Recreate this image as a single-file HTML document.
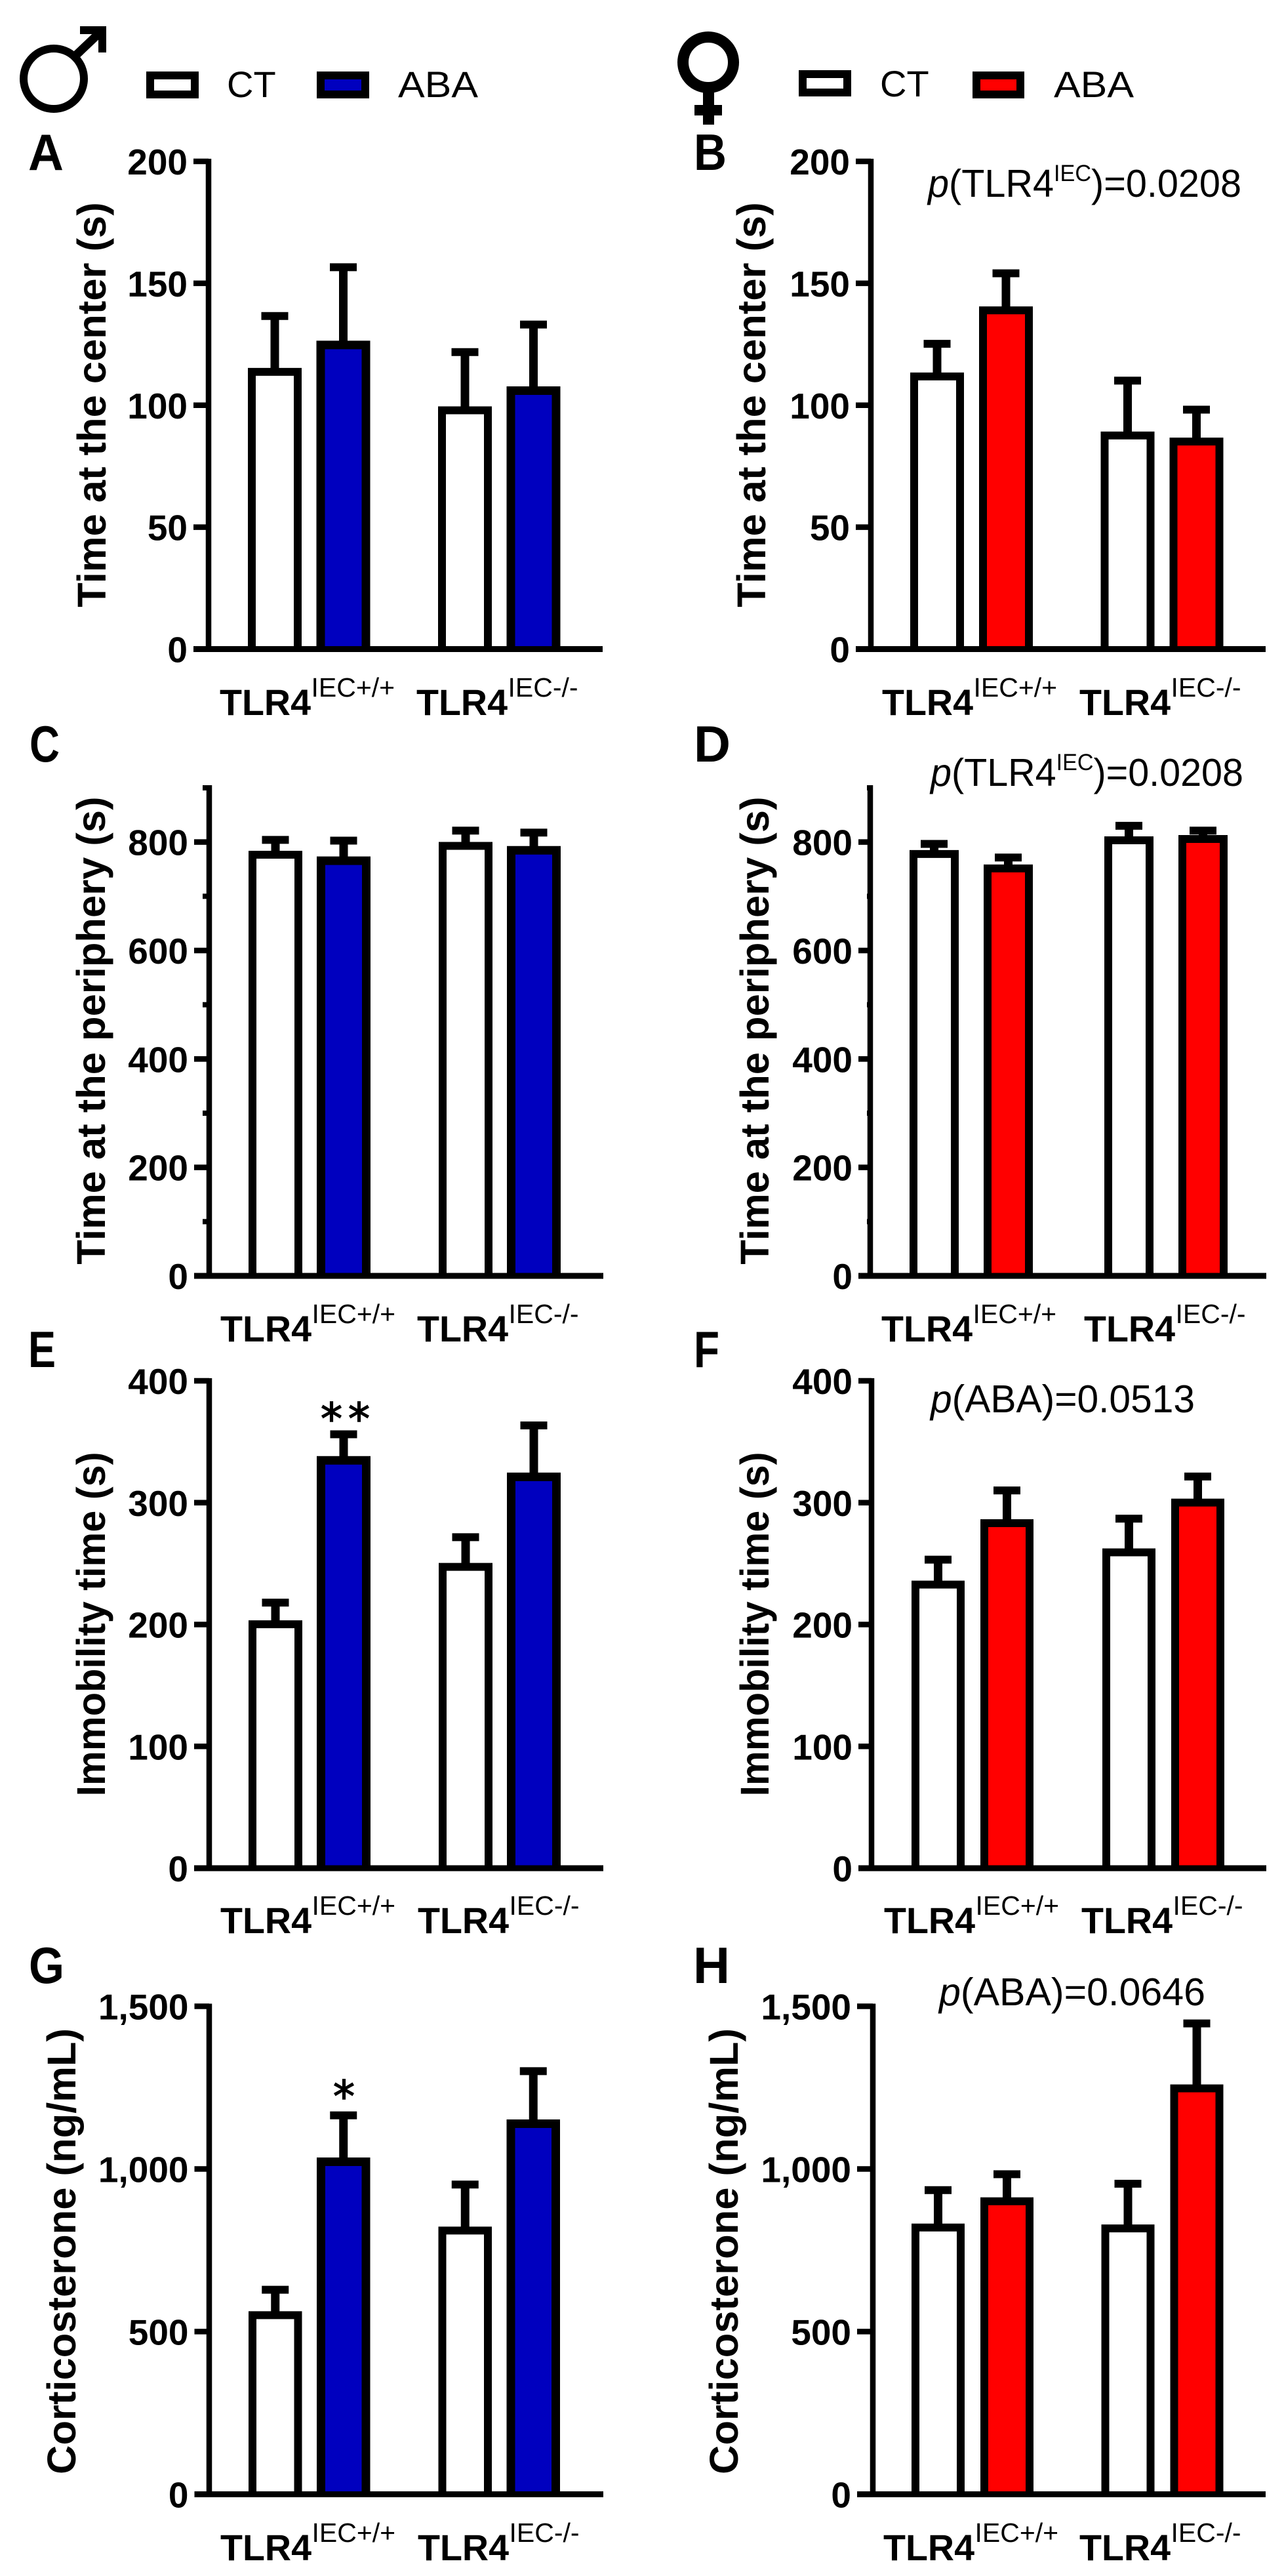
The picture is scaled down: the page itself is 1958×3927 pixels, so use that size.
<!DOCTYPE html>
<html lang="en">
<head>
<meta charset="utf-8">
<title>Behaviour and corticosterone bar charts</title>
<style>
html,body{margin:0;padding:0;background:#fff;}
svg{display:block;}
text{font-family:"Liberation Sans",sans-serif;fill:#000;}
.tick{font-size:55px;font-weight:700;text-anchor:end;}
.title{font-size:61.5px;font-weight:700;text-anchor:middle;}
.lbl{font-size:55.6px;font-weight:700;}
.sup{font-size:41px;}
.letter{font-size:78px;font-weight:700;}
.leg{font-size:56px;}
.note{font-size:59px;}
.star{font-family:"DejaVu Sans",sans-serif;font-size:66px;stroke:#000;stroke-width:1.5px;}
</style>
</head>
<body>
<svg id="figure" xmlns="http://www.w3.org/2000/svg" width="1958" height="3927" viewBox="0 0 1958 3927">
  <rect width="1958" height="3927" fill="#fff"/>

  <g>
    <circle cx="82" cy="120" r="46" fill="none" stroke="#000" stroke-width="12"/>
    <path d="M116 84L156 46" stroke="#000" stroke-width="13" fill="none"/>
    <path d="M122 40H162V80H150V52H122Z" fill="#000"/>
  </g>
  <g>
    <circle cx="1080" cy="95" r="38.5" fill="none" stroke="#000" stroke-width="17"/>
    <rect x="1072" y="130" width="17" height="60" fill="#000"/>
    <rect x="1059" y="160" width="42" height="16" fill="#000"/>
  </g>

  <g>
    <rect x="229" y="115" width="68" height="29" fill="#fff" stroke="#000" stroke-width="12"/>
    <text class="leg" x="346" y="148">CT</text>
    <rect x="489" y="115" width="68" height="29" fill="#0000BF" stroke="#000" stroke-width="12"/>
    <text class="leg" x="607" y="148" textLength="122" lengthAdjust="spacingAndGlyphs">ABA</text>
  </g>
  <g>
    <rect x="1224" y="113" width="68" height="28" fill="#fff" stroke="#000" stroke-width="12"/>
    <text class="leg" x="1342" y="147">CT</text>
    <rect x="1489" y="115" width="67" height="29" fill="#FF0000" stroke="#000" stroke-width="12"/>
    <text class="leg" x="1607" y="148" textLength="122" lengthAdjust="spacingAndGlyphs">ABA</text>
  </g>

  <text class="letter" x="43" y="259" textLength="54" lengthAdjust="spacingAndGlyphs">A</text>
  <text class="letter" x="1058" y="259" textLength="50" lengthAdjust="spacingAndGlyphs">B</text>
  <text class="letter" x="45" y="1161" textLength="46" lengthAdjust="spacingAndGlyphs">C</text>
  <text class="letter" x="1058" y="1161" textLength="56" lengthAdjust="spacingAndGlyphs">D</text>
  <text class="letter" x="43" y="2084" textLength="42" lengthAdjust="spacingAndGlyphs">E</text>
  <text class="letter" x="1058" y="2084" textLength="39" lengthAdjust="spacingAndGlyphs">F</text>
  <text class="letter" x="44" y="3023" textLength="54" lengthAdjust="spacingAndGlyphs">G</text>
  <text class="letter" x="1057" y="3023" textLength="56" lengthAdjust="spacingAndGlyphs">H</text>

  <text class="title" transform="translate(161,617) rotate(-90)">Time at the center (s)</text>
  <text class="title" transform="translate(1167,617) rotate(-90)">Time at the center (s)</text>
  <text class="title" transform="translate(160,1571) rotate(-90)">Time at the periphery (s)</text>
  <text class="title" transform="translate(1172,1571) rotate(-90)">Time at the periphery (s)</text>
  <text class="title" transform="translate(160,2476) rotate(-90)" textLength="525" lengthAdjust="spacingAndGlyphs">Immobility time (s)</text>
  <text class="title" transform="translate(1172,2476) rotate(-90)" textLength="525" lengthAdjust="spacingAndGlyphs">Immobility time (s)</text>
  <text class="title" transform="translate(115,3432) rotate(-90)">Corticosterone (ng/mL)</text>
  <text class="title" transform="translate(1125,3432) rotate(-90)">Corticosterone (ng/mL)</text>

  <g>
    <text class="lbl" x="335" y="1090">TLR4</text><text class="sup" x="474.5" y="1062">IEC+/+</text>
    <text class="lbl" x="635" y="1090">TLR4</text><text class="sup" x="774.5" y="1062">IEC-/-</text>
  </g>
  <g>
    <text class="lbl" x="1345" y="1090">TLR4</text><text class="sup" x="1484.5" y="1062">IEC+/+</text>
    <text class="lbl" x="1646" y="1090">TLR4</text><text class="sup" x="1785.5" y="1062">IEC-/-</text>
  </g>
  <g>
    <text class="lbl" x="336" y="2045">TLR4</text><text class="sup" x="475.5" y="2017">IEC+/+</text>
    <text class="lbl" x="636" y="2045">TLR4</text><text class="sup" x="775.5" y="2017">IEC-/-</text>
  </g>
  <g>
    <text class="lbl" x="1344" y="2045">TLR4</text><text class="sup" x="1483.5" y="2017">IEC+/+</text>
    <text class="lbl" x="1653" y="2045">TLR4</text><text class="sup" x="1792.5" y="2017">IEC-/-</text>
  </g>
  <g>
    <text class="lbl" x="336" y="2947">TLR4</text><text class="sup" x="475.5" y="2919">IEC+/+</text>
    <text class="lbl" x="637" y="2947">TLR4</text><text class="sup" x="776.5" y="2919">IEC-/-</text>
  </g>
  <g>
    <text class="lbl" x="1348" y="2947">TLR4</text><text class="sup" x="1487.5" y="2919">IEC+/+</text>
    <text class="lbl" x="1649" y="2947">TLR4</text><text class="sup" x="1788.5" y="2919">IEC-/-</text>
  </g>
  <g>
    <text class="lbl" x="336" y="3903">TLR4</text><text class="sup" x="475.5" y="3875">IEC+/+</text>
    <text class="lbl" x="637" y="3903">TLR4</text><text class="sup" x="776.5" y="3875">IEC-/-</text>
  </g>
  <g>
    <text class="lbl" x="1347" y="3903">TLR4</text><text class="sup" x="1486.5" y="3875">IEC+/+</text>
    <text class="lbl" x="1646" y="3903">TLR4</text><text class="sup" x="1785.5" y="3875">IEC-/-</text>
  </g>

  <text class="note" x="1415" y="300" textLength="478" lengthAdjust="spacingAndGlyphs"><tspan font-style="italic">p</tspan>(TLR4<tspan font-size="35" dy="-24">IEC</tspan><tspan dy="24">)=0.0208</tspan></text>
  <text class="note" x="1419" y="1198" textLength="477" lengthAdjust="spacingAndGlyphs"><tspan font-style="italic">p</tspan>(TLR4<tspan font-size="35" dy="-24">IEC</tspan><tspan dy="24">)=0.0208</tspan></text>
  <text class="note" x="1419" y="2153" textLength="403" lengthAdjust="spacingAndGlyphs"><tspan font-style="italic">p</tspan>(ABA)=0.0513</text>
  <text class="note" x="1432" y="3057" textLength="406" lengthAdjust="spacingAndGlyphs"><tspan font-style="italic">p</tspan>(ABA)=0.0646</text>

  <text class="star" x="489" y="2186" letter-spacing="9">**</text>
  <text class="star" x="508" y="3219">*</text>

  <g id="panel-a"></g>
  <g id="panel-b"></g>
  <g id="panel-c"></g>
  <g id="panel-d"></g>
  <g id="panel-e"></g>
  <g id="panel-f"></g>
  <g id="panel-g"></g>
  <g id="panel-h"></g>
</svg>

<script>
// Values: index order is [CT +/+, ABA +/+, CT -/-, ABA -/-]
const groups = ['TLR4 IEC+/+', 'TLR4 IEC-/-'];
const treatments = ['CT', 'ABA'];

const ticksCenter = [0, 50, 100, 150, 200];
const ticksPeriphery = [0, 200, 400, 600, 800];
const minorPeriphery = [100, 300, 500, 700, 900];
const ticksImmobility = [0, 100, 200, 300, 400];
const ticksCort = [0, 500, 1000, 1500];
const noMinor = [];

const meansA = [113.7, 124.7, 97.9, 106];
const uppersA = [136.6, 156.6, 121.8, 133.1];
const meansB = [111.8, 138.9, 87.6, 85.1];
const uppersB = [125.2, 154.1, 110.1, 98.2];
const meansC = [776.6, 765.5, 792.9, 784.8];
const uppersC = [804, 802.6, 821, 817.4];
const meansD = [778, 751.4, 803.3, 805.6];
const uppersD = [796.6, 771.4, 830, 821];
const meansE = [200.2, 334.7, 247.3, 321.2];
const uppersE = [218, 356.1, 271.7, 363.4];
const meansF = [232.8, 283.2, 259.2, 300.1];
const uppersF = [253.2, 310, 286.9, 321.5];
const meansG = [550.5, 1022, 810.7, 1139];
const uppersG = [628.6, 1164.8, 952, 1300.7];
const meansH = [820, 900.6, 817.3, 1247.8];
const uppersH = [934.9, 983.7, 954.6, 1447.3];

const SVG_NS = 'http://www.w3.org/2000/svg';
const BLACK = '#000';
const BLUE = '#0000BF';
const RED = '#FF0000';

function make(tag, attrs, parent) {
  const el = document.createElementNS(SVG_NS, tag);
  for (const k in attrs) el.setAttribute(k, attrs[k]);
  parent.appendChild(el);
  return el;
}

function drawPanel(id, frame, means, uppers, majors, minors, fmt) {
  const root = document.getElementById(id);
  const yMax = frame.yMax;
  const yScale = function (v) { return frame.y0 - v * (frame.y0 - frame.yTop) / yMax; };
  const barLeft = function (g, s) { return frame.left + g * frame.groupStep + s * frame.barStep; };

  // bars and error bars
  for (let g = 0; g < groups.length; g++) {
    for (let s = 0; s < treatments.length; s++) {
      const i = g * treatments.length + s;
      const sw = (s === 1 && frame.color === BLUE) ? 13 : 12;
      const x = barLeft(g, s);
      const cx = x + frame.barW / 2;
      const top = yScale(means[i]);
      const up = yScale(uppers[i]);

      const whisker = make('line', { x1: cx, x2: cx, y1: up, y2: top, stroke: BLACK, 'stroke-width': 13 }, root);
      
      

      const cap = make('line', { x1: cx - 20.5, x2: cx + 20.5, y1: up, y2: up, stroke: BLACK, 'stroke-width': 12 }, root);
      
      

      const xl = x + sw / 2;
      const xr = x + frame.barW - sw / 2;
      const bar = make('path', {
        d: 'M' + xl + ' ' + frame.y0 + 'V' + top + 'H' + xr + 'V' + frame.y0,
        fill: s === 0 ? '#fff' : frame.color, stroke: BLACK, 'stroke-width': sw
      }, root);
      
      
    }
  }

  // y axis line
  const yAxis = make('line', {
    x1: frame.axisX, x2: frame.axisX, y1: yScale(yMax) - 4, y2: frame.y0 + 4, stroke: BLACK, 'stroke-width': 8.5
  }, root);
  
  

  // x axis line
  const xAxis = make('rect', { x: frame.axisStart, y: frame.y0 - 4.5, width: frame.axisEnd - frame.axisStart, height: 9, fill: BLACK }, root);
  
  

  // major ticks and labels
  majors.forEach(function (v) {
    const y = yScale(v);
    const t = make('line', { x1: frame.axisStart, x2: frame.axisX, y1: y, y2: y, stroke: BLACK, 'stroke-width': 8.5 }, root);
    
    
    const lab = make('text', { class: 'tick', x: frame.axisStart - 9, y: y + 20 }, root);
    
    
    lab.textContent = fmt(v);
  });

  // minor ticks
  minors.forEach(function (v) {
    const y = yScale(v);
    const t = make('line', { x1: frame.axisStart + 13, x2: frame.axisX, y1: y, y2: y, stroke: BLACK, 'stroke-width': 8 }, root);
    
    
  });
}

const plain = function (v) { return String(v); };
const comma = function (v) { return v.toLocaleString('en-US'); };

drawPanel('panel-a', { color: BLUE, axisX: 318, axisStart: 295, axisEnd: 919, y0: 989.5, yTop: 246, yMax: 200, left: 378, groupStep: 290, barStep: 104.5, barW: 82 }, meansA, uppersA, ticksCenter, noMinor, plain);
drawPanel('panel-b', { color: RED, axisX: 1328, axisStart: 1305, axisEnd: 1930, y0: 989.5, yTop: 246, yMax: 200, left: 1388, groupStep: 290.5, barStep: 105, barW: 82 }, meansB, uppersB, ticksCenter, noMinor, plain);
drawPanel('panel-c', { color: BLUE, axisX: 319, axisStart: 296, axisEnd: 920, y0: 1945, yTop: 1201, yMax: 900, left: 379, groupStep: 290, barStep: 104, barW: 82 }, meansC, uppersC, ticksPeriphery, minorPeriphery, plain);
drawPanel('panel-d', { color: RED, axisX: 1327, axisStart: 1309, axisEnd: 1931, y0: 1945, yTop: 1201, yMax: 900, left: 1387, groupStep: 297, barStep: 113, barW: 75 }, meansD, uppersD, ticksPeriphery, minorPeriphery, plain);
drawPanel('panel-e', { color: BLUE, axisX: 319, axisStart: 296, axisEnd: 920, y0: 2848, yTop: 2105, yMax: 400, left: 379, groupStep: 290, barStep: 104, barW: 82 }, meansE, uppersE, ticksImmobility, noMinor, plain);
drawPanel('panel-f', { color: RED, axisX: 1329, axisStart: 1309, axisEnd: 1931, y0: 2848, yTop: 2105, yMax: 400, left: 1390, groupStep: 291, barStep: 105, barW: 81 }, meansF, uppersF, ticksImmobility, noMinor, plain);
drawPanel('panel-g', { color: BLUE, axisX: 319, axisStart: 296.5, axisEnd: 920, y0: 3802.4, yTop: 3058.5, yMax: 1500, left: 379, groupStep: 289.5, barStep: 104, barW: 81.5 }, meansG, uppersG, ticksCort, noMinor, comma);
drawPanel('panel-h', { color: RED, axisX: 1331, axisStart: 1307, axisEnd: 1930, y0: 3802.4, yTop: 3058.5, yMax: 1500, left: 1390, groupStep: 289.5, barStep: 105, barW: 81 }, meansH, uppersH, ticksCort, noMinor, comma);
</script>
</body>
</html>
